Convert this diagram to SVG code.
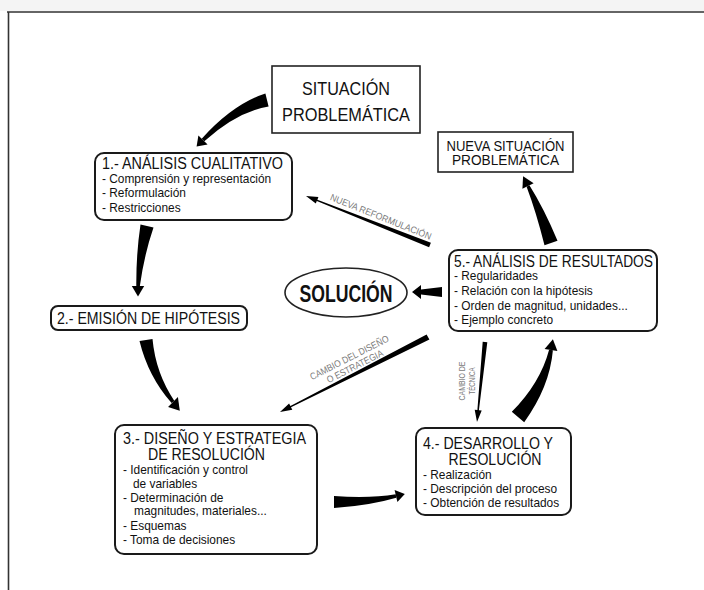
<svg xmlns="http://www.w3.org/2000/svg" width="704" height="590" viewBox="0 0 704 590">
<style>
.bx{fill:#fff;stroke:#1a1a1a;stroke-width:2}
.sq{fill:#fff;stroke:#222;stroke-width:1.6}
.t{font-family:"Liberation Sans",Arial,sans-serif;fill:#111}
.ti{font-size:16px}
.it{font-size:11.9px}
.lb{font-family:"Liberation Sans",Arial,sans-serif;font-size:9.5px;fill:#7a7a7a}
.ar{fill:#000;stroke:none}
.frame{stroke:#333;stroke-width:1.6;fill:none}
</style>
<rect x="0" y="0" width="704" height="11" fill="#f4f4f4"/>
<path class="frame" d="M7,12 H704 M8.5,12 V590"/>

<g id="connectors">
  <!-- situacion -> 1 -->
  <path class="ar" d="M265.4,93.5 Q233,104 201.7,138.7 L204.3,141.3 Q237,112 268.6,106.5 Z"/>
  <path class="ar" d="M207.6,144.6 L198.4,135.4 L196.6,146.4 Z"/>
  <!-- 1 -> 2 -->
  <path class="ar" d="M140.5,224.5 Q136,254.6 136.3,287 L139.7,287 Q144,255.4 153.5,227.5 Z"/>
  <path class="ar" d="M131.8,286 L144.2,286 L138,296.5 Z"/>
  <!-- 2 -> 3 -->
  <path class="ar" d="M139.5,341 Q148.3,376.8 171.6,403.1 L174.4,400.9 Q155.7,373.2 152.5,339 Z"/>
  <path class="ar" d="M177.9,397.1 L168.1,406.9 L179.8,410.7 Z"/>
  <!-- 3 -> 4 -->
  <path class="ar" d="M334,496 Q370,498.5 395.7,494.3 L396.3,497.7 Q370,505.5 334,508 Z"/>
  <path class="ar" d="M397.4,502 L394.6,490 L404.8,494 Z"/>
  <!-- 4 -> 5 -->
  <path class="ar" d="M511.8,411.8 Q540.4,382.9 549.1,349.7 L552.9,350.3 Q549.6,387.1 524.2,422.2 Z"/>
  <path class="ar" d="M557.4,351.1 L544.6,348.9 L552.9,339.2 Z"/>
  <!-- 5 -> nueva -->
  <path class="ar" d="M544.5,245.3 Q536,211.6 526.6,186.8 L529.4,185.2 Q544,208.4 557.5,240.7 Z"/>
  <path class="ar" d="M533.6,183.2 L522.4,188.8 L523.1,176.2 Z"/>
  <!-- 5 -> solucion -->
  <path class="ar" d="M442,287 L442,297 L421,294.5 L421,299 L412,292 L421,285 L421,289.5 Z"/>
  <!-- nueva reformulacion -->
  <path class="ar" d="M430.9,242.8 L429.1,247.2 L316.8,201.1 L315.8,203.6 L306,196 L318.4,197.1 L317.4,199.7 Z"/>
  <!-- cambio del diseno -->
  <path class="ar" d="M429.4,339.5 L426.6,334.5 L290.4,405.9 L289.1,403.5 L280,412 L292.3,409.7 L291,407.3 Z"/>
  <!-- cambio de tecnica -->
  <path class="ar" d="M487.3,342.2 L482.7,341.8 L477.4,410 L474.7,409.8 L477,422 L481.7,410.4 L478.9,410.2 Z"/>
  <text class="lb" text-anchor="middle" transform="translate(379.6,219.8) rotate(21.7)" textLength="108" lengthAdjust="spacingAndGlyphs">NUEVA REFORMULACIÓN</text>
  <g class="lb" text-anchor="middle" transform="translate(353,365) rotate(-26.9)">
    <text x="0" y="-5" textLength="87" lengthAdjust="spacingAndGlyphs">CAMBIO DEL DISEÑO</text>
    <text x="1" y="5.3" textLength="62" lengthAdjust="spacingAndGlyphs">O ESTRATEGIA</text>
  </g>
  <g class="lb" text-anchor="middle" transform="translate(468,381) rotate(-90)">
    <text x="0" y="-3" textLength="39" lengthAdjust="spacingAndGlyphs">CAMBIO DE</text>
    <text x="0" y="7" textLength="27" lengthAdjust="spacingAndGlyphs">TÉCNICA</text>
  </g>
</g>

<g id="situacion">
  <rect class="sq" x="272" y="66" width="148" height="67"/>
  <text class="t" font-size="19" text-anchor="middle" x="346" y="94.5" textLength="88" lengthAdjust="spacingAndGlyphs">SITUACIÓN</text>
  <text class="t" font-size="19" text-anchor="middle" x="346" y="121" textLength="128" lengthAdjust="spacingAndGlyphs">PROBLEMÁTICA</text>
</g>

<g id="nueva">
  <rect class="sq" x="438" y="132" width="135" height="40"/>
  <text class="t" font-size="14" text-anchor="middle" x="505.5" y="150.5" textLength="118" lengthAdjust="spacingAndGlyphs">NUEVA SITUACIÓN</text>
  <text class="t" font-size="14" text-anchor="middle" x="505.5" y="165" textLength="107" lengthAdjust="spacingAndGlyphs">PROBLEMÁTICA</text>
</g>

<g id="n1">
  <rect class="bx" x="95" y="153" width="197" height="67" rx="9"/>
  <text class="t ti" x="102" y="169" textLength="181" lengthAdjust="spacingAndGlyphs">1.- ANÁLISIS CUALITATIVO</text>
  <text class="t it" x="102" y="182.5">- Comprensión y representación</text>
  <text class="t it" x="102" y="197">- Reformulación</text>
  <text class="t it" x="102" y="211.5">- Restricciones</text>
</g>

<g id="n2">
  <rect class="bx" x="51" y="306" width="196" height="24" rx="7"/>
  <text class="t ti" x="57" y="324" textLength="183" lengthAdjust="spacingAndGlyphs">2.- EMISIÓN DE HIPÓTESIS</text>
</g>

<g id="solucion">
  <ellipse cx="346" cy="292.5" rx="61" ry="24.5" fill="#fff" stroke="#222" stroke-width="1.6"/>
  <text class="t" font-size="23" font-weight="bold" text-anchor="middle" x="346" y="302" textLength="93" lengthAdjust="spacingAndGlyphs">SOLUCIÓN</text>
</g>

<g id="n3">
  <rect class="bx" x="115" y="425" width="202" height="129" rx="9"/>
  <text class="t ti" x="123" y="443.5" textLength="183" lengthAdjust="spacingAndGlyphs">3.- DISEÑO Y ESTRATEGIA</text>
  <text class="t ti" x="148" y="459.5" textLength="117" lengthAdjust="spacingAndGlyphs">DE RESOLUCIÓN</text>
  <text class="t it" x="123" y="474">- Identificación y control</text>
  <text class="t it" x="133" y="487.5">de variables</text>
  <text class="t it" x="123" y="501.5">- Determinación de</text>
  <text class="t it" x="134" y="515">magnitudes, materiales...</text>
  <text class="t it" x="123" y="529.5">- Esquemas</text>
  <text class="t it" x="123" y="543.5">- Toma de decisiones</text>
</g>

<g id="n4">
  <rect class="bx" x="416" y="428" width="155" height="87" rx="9"/>
  <text class="t ti" x="423" y="449" textLength="130" lengthAdjust="spacingAndGlyphs">4.- DESARROLLO Y</text>
  <text class="t ti" x="448.5" y="465" textLength="93" lengthAdjust="spacingAndGlyphs">RESOLUCIÓN</text>
  <text class="t it" x="423" y="479">- Realización</text>
  <text class="t it" x="423" y="493">- Descripción del proceso</text>
  <text class="t it" x="423" y="507">- Obtención de resultados</text>
</g>

<g id="n5">
  <rect class="bx" x="449" y="250" width="208" height="81" rx="9"/>
  <text class="t ti" x="454" y="266.5" textLength="199" lengthAdjust="spacingAndGlyphs">5.- ANÁLISIS DE RESULTADOS</text>
  <text class="t it" x="454" y="280">- Regularidades</text>
  <text class="t it" x="454" y="295">- Relación con la hipótesis</text>
  <text class="t it" x="454" y="309.5">- Orden de magnitud, unidades...</text>
  <text class="t it" x="454" y="324">- Ejemplo concreto</text>
</g>
</svg>
